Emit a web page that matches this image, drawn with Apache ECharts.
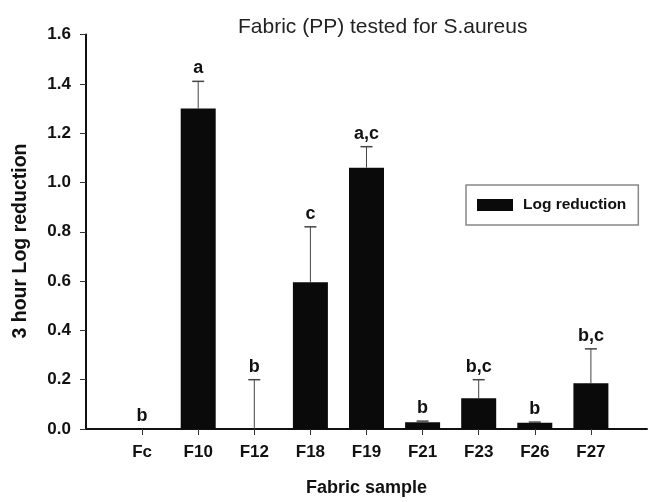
<!DOCTYPE html>
<html><head><meta charset="utf-8">
<script src="https://cdn.jsdelivr.net/npm/echarts@6/dist/echarts.min.js"></script>
<style>html,body{margin:0;padding:0;background:#fff}#c{width:650px;height:502px}</style>
</head><body><div id="c"></div>
<script>
const categories = ['Fc', 'F10', 'F12', 'F18', 'F19', 'F21', 'F23', 'F26', 'F27'];
const values = [0, 1.30, 0, 0.595, 1.06, 0.027, 0.125, 0.025, 0.186];
const errorTops = [null, 1.41, 0.20, 0.82, 1.145, 0.032, 0.20, 0.028, 0.325];
const letters = ['b', 'a', 'b', 'c', 'a,c', 'b', 'b,c', 'b', 'b,c'];
const yTicks = [0, 0.2, 0.4, 0.6, 0.8, 1.0, 1.2, 1.4, 1.6];

const FONT = 'Liberation Sans, Arial, Helvetica, sans-serif';
const axisCats = [''].concat(categories, ['']);
const barData = ['-'].concat(values, ['-']);
const errData = categories.map((c, i) => [i + 1, values[i], errorTops[i] == null ? values[i] : errorTops[i]]);

const chart = echarts.init(document.getElementById('c'), null, {renderer: 'canvas'});
chart.setOption({
  animation: false,
  backgroundColor: '#fff',
  title: {
    text: 'Fabric (PP) tested for S.aureus',
    left: 233, top: 12,
    textStyle: {fontFamily: FONT, fontSize: 21, fontWeight: 'normal', color: '#222'}
  },
  legend: {
    data: ['Log reduction'],
    left: 466, top: 185,
    padding: [12, 12, 12, 11],
    borderColor: '#888', borderWidth: 1.5,
    itemWidth: 36, itemHeight: 12, icon: 'rect',
    textStyle: {fontFamily: FONT, fontSize: 15.5, fontWeight: 'bold', color: '#111', padding: [0, 0, 0, 5]}
  },
  graphic: [{
    type: 'text',
    x: 21, y: 241, rotation: Math.PI / 2,
    style: {text: '3 hour Log reduction', font: 'bold 19.5px ' + FONT, fill: '#111',
      align: 'center', verticalAlign: 'middle'}
  }],
  grid: {left: 86, right: 0, top: 34.5, bottom: 72},
  xAxis: {
    type: 'category',
    data: axisCats,
    boundaryGap: false,
    name: 'Fabric sample',
    nameLocation: 'middle',
    nameGap: 50,
    nameTextStyle: {fontFamily: FONT, fontSize: 18, fontWeight: 'bold', color: '#111'},
    axisLine: {lineStyle: {color: '#111', width: 2}},
    axisTick: {length: 6, lineStyle: {color: '#333', width: 1}, interval: (i, v) => v !== ''},
    axisLabel: {interval: 0, margin: 15, fontFamily: FONT, fontSize: 17, fontWeight: 'bold', color: '#111'},
    splitLine: {show: false}
  },
  yAxis: {
    type: 'value',
    min: yTicks[0], max: yTicks[yTicks.length - 1], interval: 0.2,
    axisLine: {show: true, lineStyle: {color: '#111', width: 2}},
    axisTick: {show: true, length: 6, lineStyle: {color: '#333', width: 1}},
    axisLabel: {margin: 15, fontFamily: FONT, fontSize: 17, fontWeight: 'bold', color: '#111',
      formatter: v => v.toFixed(1)},
    splitLine: {show: false}
  },
  series: [
    {
      name: 'Log reduction',
      type: 'bar',
      data: barData,
      barWidth: 35,
      itemStyle: {color: '#0a0a0a'}
    },
    {
      type: 'custom',
      data: errData,
      z: 5,
      renderItem: function (params, api) {
        const i = params.dataIndex;
        const x = api.value(0);
        const base = api.coord([x, api.value(1)]);
        const top = api.coord([x, api.value(2)]);
        const children = [];
        if (errorTops[i] != null) {
          children.push({type: 'line', shape: {x1: base[0], y1: base[1], x2: top[0], y2: top[1]},
            style: {stroke: '#444', lineWidth: 1}});
          children.push({type: 'line', shape: {x1: top[0] - 6, y1: top[1], x2: top[0] + 6, y2: top[1]},
            style: {stroke: '#444', lineWidth: 1.5}});
        }
        children.push({type: 'text', x: top[0], y: top[1] - 4,
          style: {text: letters[i], align: 'center', verticalAlign: 'bottom',
            font: 'bold 18px ' + FONT, fill: '#111'}});
        return {type: 'group', children: children};
      }
    }
  ]
});
</script>
</body></html>
